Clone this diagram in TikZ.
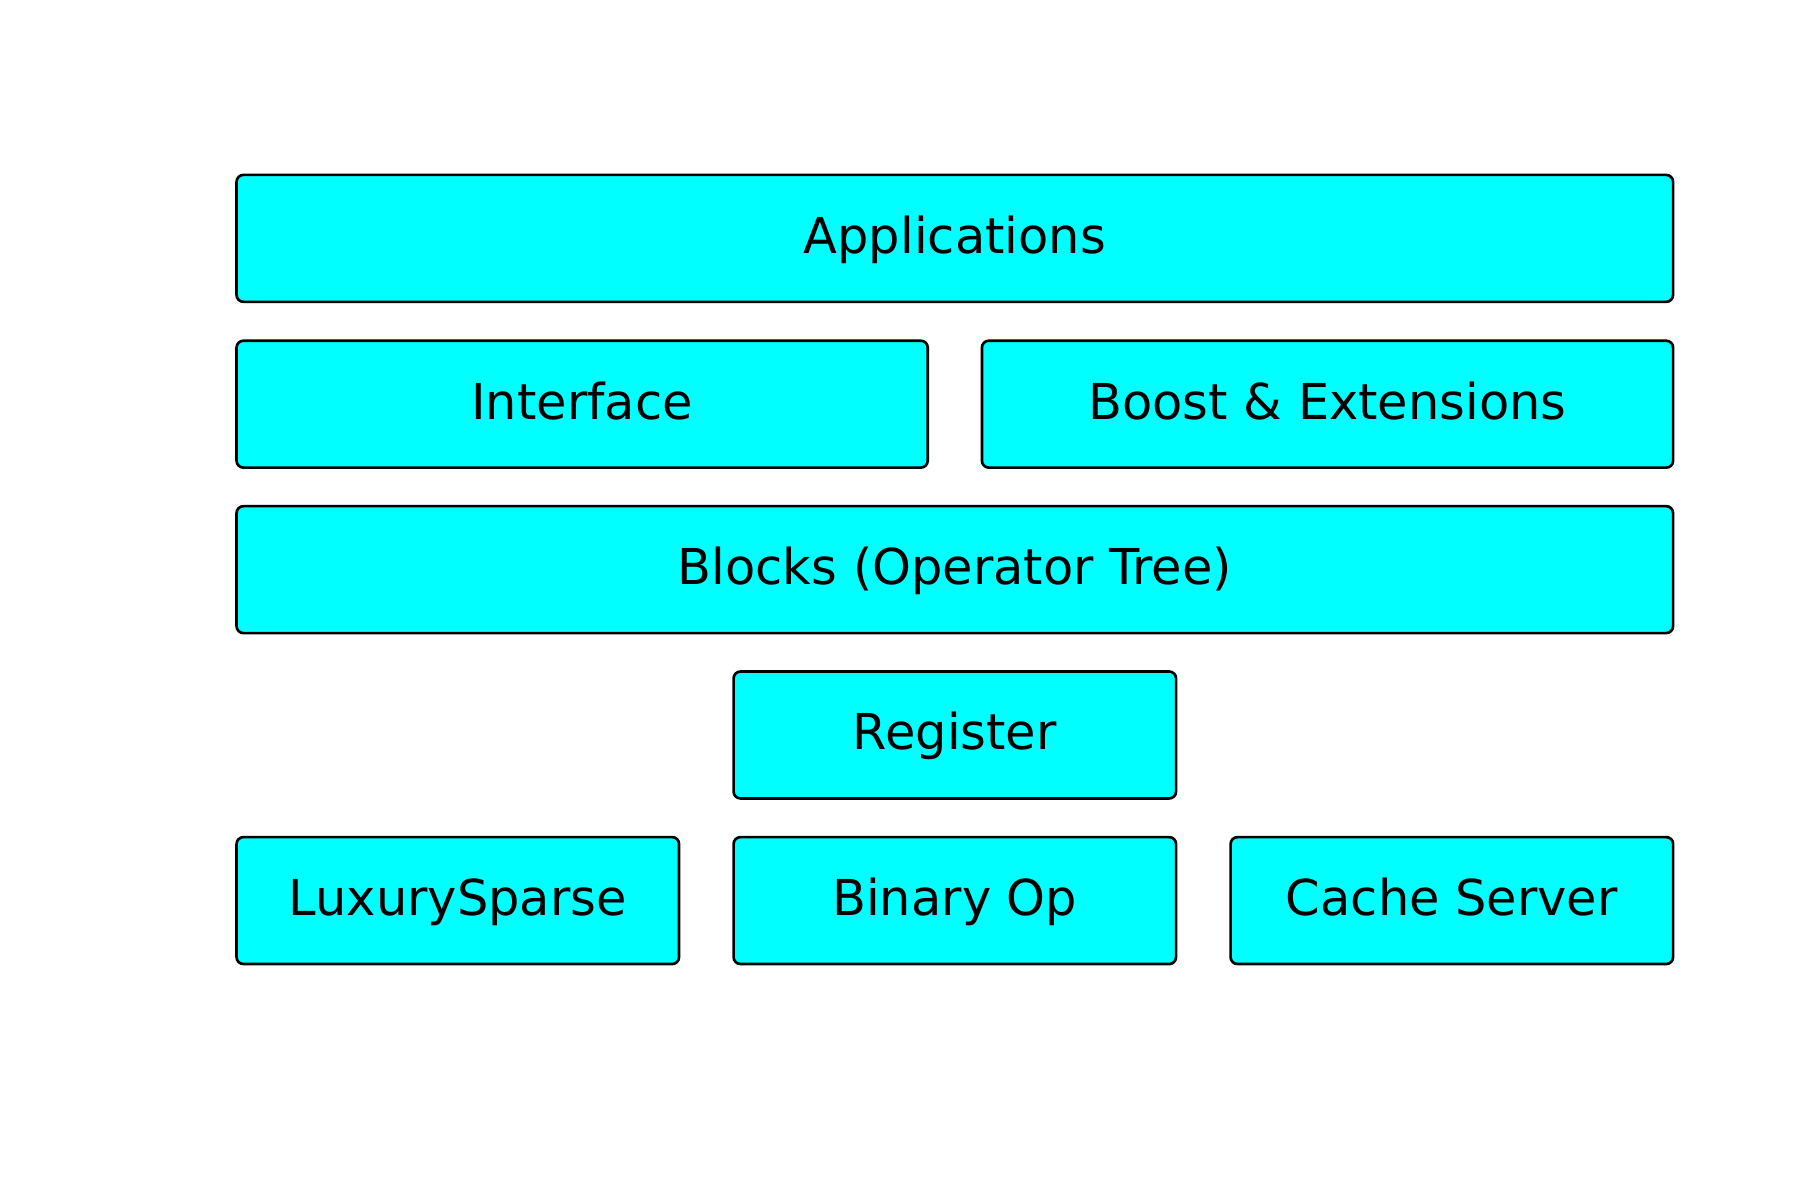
\documentclass[tikz,border=0pt]{standalone}
\usepackage{fontspec}
\setmainfont{DejaVu Sans}
\definecolor{aqua}{RGB}{0,255,255}

\begin{document}
\begin{tikzpicture}[
	layer/.style={draw, fill=aqua, line width=0.65pt, rounded corners=0.06cm, minimum height=1.10cm, inner sep=0pt, text height=0.34cm, text depth=0.08cm, font=\fontsize{12.2}{14}\selectfont},
	wide/.style={layer, minimum width=12.45cm},
	half/.style={layer, minimum width=5.99cm},
	third/.style={layer, minimum width=3.835cm}]
	\useasboundingbox (0,0) rectangle (15.6,10.4);
	\node[wide] (apps) at (8.275,8.334) {Applications};
	\node[half] (iface) at (5.045,6.897) {Interface};
	\node[half] (boost) at (11.505,6.897) {Boost \& Extensions};
	\node[wide] (blocks) at (8.275,5.463) {Blocks (Operator Tree)};
	\node[third] (reg) at (8.275,4.030) {Register};
	\node[third] (lux) at (3.9675,2.595) {LuxurySparse};
	\node[third] (binop) at (8.275,2.595) {Binary Op};
	\node[third] (cache) at (12.5825,2.595) {Cache Server};
\end{tikzpicture}
\end{document}
